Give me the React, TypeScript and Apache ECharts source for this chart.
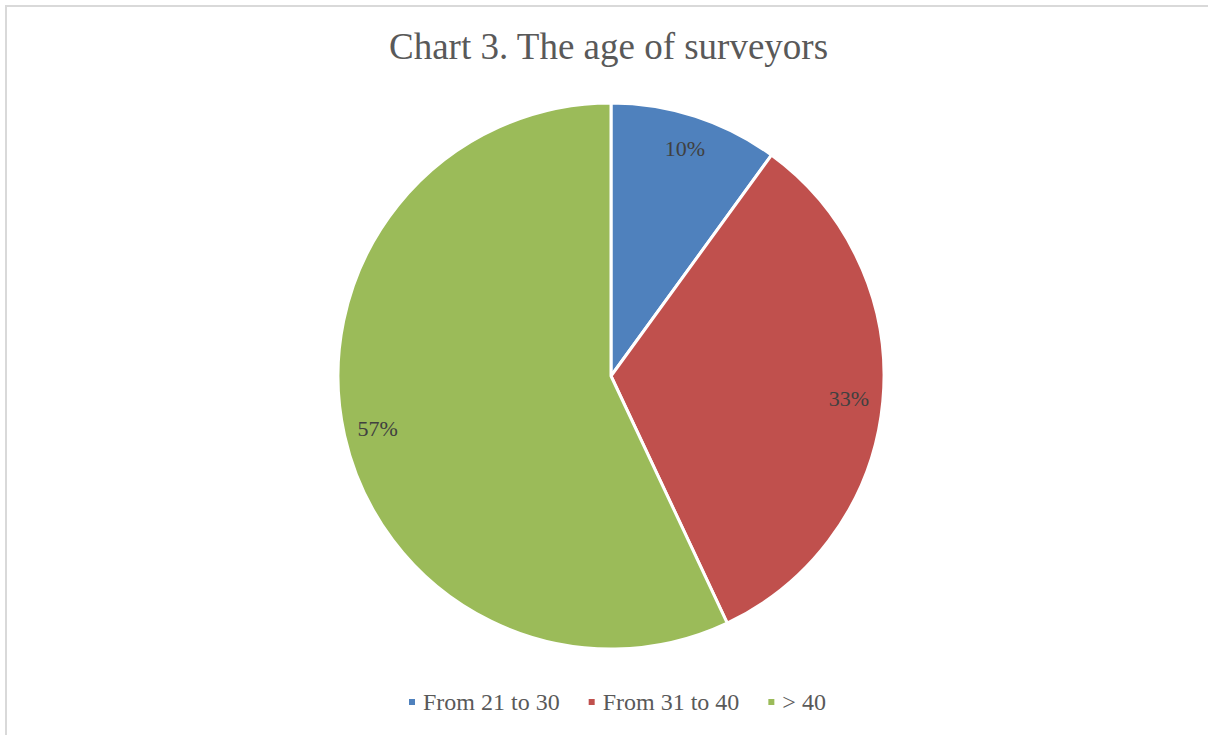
import React, { useEffect, useRef } from "react";
import * as echarts from "echarts";

const categories = ["From 21 to 30", "From 31 to 40", "> 40"];
const values = [10, 33, 57];
const colors = ["#4F81BD", "#C0504D", "#9BBB59"];
const titleText = "Chart 3. The age of surveyors";

export default function App() {
  const ref = useRef<HTMLDivElement>(null);
  useEffect(() => {
    if (!ref.current) return;
    const chart = echarts.init(ref.current, null, { renderer: "svg" });
    const data = categories.map((name, i) => ({
      name,
      value: values[i],
      itemStyle: { color: colors[i] },
    }));
    const font = "'Liberation Serif', 'Times New Roman', serif";
    chart.setOption({
      animation: false,
      backgroundColor: "#ffffff",
      graphic: [
        {
          type: "rect",
          shape: { x: 6, y: 6, width: 1400, height: 900 },
          style: { fill: "none", stroke: "#d9d9d9", lineWidth: 2 },
          silent: true,
          z: -10,
        },
      ],
      title: {
        text: titleText,
        left: 389,
        top: 28,
        padding: 0,
        textStyle: {
          fontFamily: font,
          fontSize: 37,
          fontWeight: "normal",
          color: "#595959",
        },
      },
      legend: {
        data: categories,
        bottom: 21,
        left: 407,
        padding: 0,
        icon: "rect",
        itemWidth: 8,
        itemHeight: 8,
        itemGap: 27,
        textStyle: {
          fontFamily: font,
          fontSize: 24,
          color: "#595959",
          padding: [0, 0, 0, 2],
        },
      },
      series: [
        {
          type: "pie",
          center: [611, 376],
          radius: [0, 273],
          startAngle: 90,
          clockwise: true,
          data,
          label: { show: false },
          labelLine: { show: false },
          itemStyle: { borderColor: "#ffffff", borderWidth: 3 },
          emphasis: { disabled: true },
          silent: true,
        },
        {
          type: "pie",
          center: [611, 376],
          radius: [198, 274],
          startAngle: 90,
          clockwise: true,
          data: categories.map((name, i) => ({ name, value: values[i] })),
          itemStyle: { color: "rgba(0,0,0,0)", borderWidth: 0 },
          label: {
            show: true,
            position: "inside",
            formatter: (p: any) => `${p.value}%`,
            fontFamily: font,
            fontSize: 22,
            color: "#404040",
          },
          labelLine: { show: false },
          emphasis: { disabled: true },
          silent: true,
        },
      ],
    });
    return () => chart.dispose();
  }, []);
  return (
    <div
      ref={ref}
      style={{ position: "absolute", left: 0, top: 0, width: 1208, height: 735 }}
    />
  );
}
